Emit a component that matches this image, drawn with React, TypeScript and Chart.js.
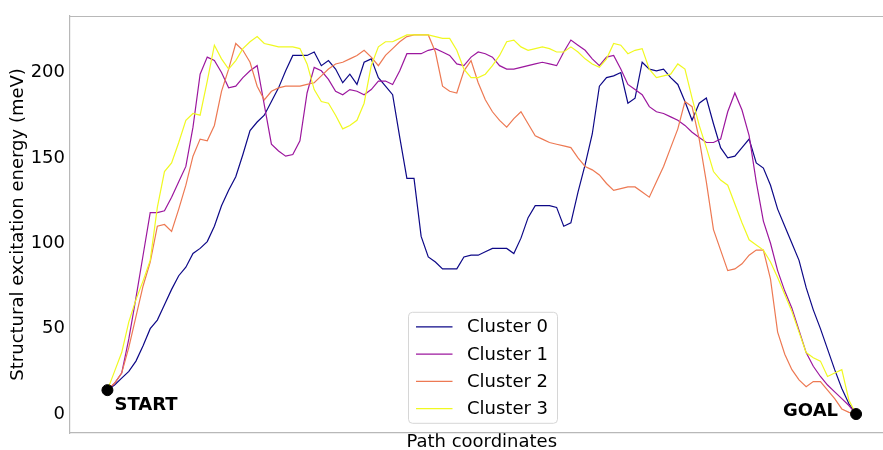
import { useEffect, useRef } from "react";
import { Chart, registerables } from "chart.js";

Chart.register(...registerables);

// Energy profiles along the path, one value per path coordinate (0..105)
const cluster0 = [
  14, 17, 21, 25, 31, 40, 50, 55, 64, 73, 81, 86, 94, 97, 101, 110, 122, 131, 139, 152,
  166, 171, 175, 183, 191, 201, 210, 210, 210, 212, 204, 207, 202, 194, 199, 193, 206, 208, 197, 192,
  187, 162, 138, 138, 104, 92, 89, 85, 85, 85, 92, 93, 93, 95, 97, 97, 97, 94, 103, 115,
  122, 122, 122, 121, 110, 112, 130, 146, 164, 192, 197, 198, 200, 182, 185, 206, 202, 201, 202, 197,
  193, 183, 172, 182, 185, 170, 156, 150, 151, 156, 161, 147, 144, 134, 120, 110, 100, 90, 74, 61,
  50, 38, 26, 15, 6, 0,
];
const cluster1 = [
  14, 18, 24, 44, 68, 93, 118, 118, 119, 127, 136, 145, 168, 199, 209, 207, 200, 191, 192, 197,
  201, 204, 181, 158, 154, 151, 152, 160, 188, 203, 201, 196, 189, 187, 190, 189, 187, 190, 195, 195,
  193, 201, 211, 211, 211, 213, 214, 212, 210, 205, 204, 209, 212, 211, 209, 204, 202, 202, 203, 204,
  205, 206, 205, 204, 212, 219, 216, 213, 208, 204, 209, 210, 202, 193, 190, 187, 180, 177, 176, 174,
  172, 169, 165, 162, 159, 159, 161, 177, 188, 178, 163, 136, 113, 100, 84, 72, 62, 49, 36, 28,
  22, 17, 13, 9, 5, 0,
];
const cluster2 = [
  14, 18, 24, 39, 57, 75, 89, 110, 111, 107, 120, 134, 151, 161, 160, 169, 189, 202, 217, 213,
  206, 192, 184, 189, 191, 192, 192, 192, 193, 194, 198, 202, 205, 206, 208, 210, 213, 209, 204, 210,
  214, 218, 221, 222, 222, 222, 212, 192, 189, 188, 201, 207, 194, 184, 177, 172, 168, 173, 177, 170,
  163, 161, 159, 158, 157, 156, 150, 145, 143, 140, 135, 131, 132, 133, 133, 130, 127, 136, 145, 156,
  167, 183, 180, 161, 136, 108, 96, 84, 85, 88, 93, 96, 96, 79, 48, 35, 26, 20, 16, 19,
  19, 14, 9, 3, 1, 0,
];
const cluster3 = [
  14, 25, 36, 54, 67, 78, 90, 121, 142, 147, 159, 172, 176, 175, 195, 216, 208, 202, 207, 214,
  218, 221, 217, 216, 215, 215, 215, 214, 205, 190, 183, 182, 175, 167, 169, 172, 182, 204, 215, 218,
  218, 220, 222, 222, 222, 222, 221, 220, 220, 213, 202, 197, 197, 199, 204, 210, 218, 219, 215, 213,
  214, 215, 214, 212, 212, 215, 212, 208, 205, 203, 208, 217, 216, 211, 213, 214, 202, 197, 198, 199,
  205, 202, 185, 169, 156, 142, 137, 134, 123, 112, 102, 99, 96, 89, 80, 70, 60, 48, 36, 33,
  31, 22, 24, 26, 8, 0,
];

const clusterNames = ["Cluster 0", "Cluster 1", "Cluster 2", "Cluster 3"];
const clusterValues = [cluster0, cluster1, cluster2, cluster3];
const clusterColors = ["#0d0887", "#9c179e", "#ed7953", "#f0f921"];

const yTickValues = [0, 50, 100, 150, 200];

const endpointLabels = ["START", "GOAL"];
const endpointX = [0, 105];
const endpointY = [14, 0];

const FONT = "'DejaVu Sans', 'Liberation Sans', sans-serif";
const SPINE = "#b8b8b8";

const decorations = {
  id: "decorations",
  afterDatasetsDraw(chart: any) {
    const { ctx, chartArea: a, scales } = chart;
    const xs = scales.x;
    const ys = scales.y;
    ctx.save();

    // top and right frame lines
    ctx.strokeStyle = SPINE;
    ctx.lineWidth = 1.2;
    ctx.beginPath();
    ctx.moveTo(a.left, Math.round(a.top) + 0.5);
    ctx.lineTo(a.right, Math.round(a.top) + 0.5);
    ctx.lineTo(a.right, a.bottom);
    ctx.stroke();

    // START / GOAL captions next to their markers
    ctx.fillStyle = "#000";
    ctx.font = `bold 18px ${FONT}`;
    ctx.textBaseline = "middle";
    const sx = xs.getPixelForValue(endpointX[0]);
    const sy = ys.getPixelForValue(endpointY[0]);
    ctx.textAlign = "left";
    ctx.fillText(endpointLabels[0], sx + 7, sy + 15);
    const gx = xs.getPixelForValue(endpointX[1]);
    const gy = ys.getPixelForValue(endpointY[1]);
    ctx.textAlign = "right";
    ctx.fillText(endpointLabels[1], gx - 18, gy - 3);

    // legend box
    const bx = a.left + 338.5;
    const by = a.top + 296.5;
    const bw = 149;
    const bh = 111;
    ctx.beginPath();
    ctx.roundRect(bx, by, bw, bh, 4);
    ctx.fillStyle = "rgba(255,255,255,0.8)";
    ctx.fill();
    ctx.strokeStyle = "#d6d6d6";
    ctx.lineWidth = 1;
    ctx.stroke();

    ctx.font = `18px ${FONT}`;
    ctx.textAlign = "left";
    ctx.textBaseline = "middle";
    clusterNames.forEach((name, k) => {
      const ly = by + 14.5 + k * 27.3;
      ctx.strokeStyle = clusterColors[k];
      ctx.lineWidth = 1.2;
      ctx.beginPath();
      ctx.moveTo(bx + 7.5, ly);
      ctx.lineTo(bx + 44, ly);
      ctx.stroke();
      ctx.fillStyle = "#000";
      ctx.fillText(name, bx + 58.5, ly + 1);
    });

    ctx.restore();
  },
};

export default function App() {
  const canvasRef = useRef<HTMLCanvasElement | null>(null);

  useEffect(() => {
    document.body.style.margin = "0";
    const canvas = canvasRef.current;
    if (!canvas) return;

    const lineSets = clusterValues.map((values, k) => ({
      type: "line" as const,
      label: clusterNames[k],
      data: values.map((v, i) => ({ x: i, y: v })),
      borderColor: clusterColors[k],
      backgroundColor: clusterColors[k],
      borderWidth: 1.2,
      pointRadius: 0,
      tension: 0,
      fill: false,
      order: 3 - k + 1,
    }));

    const markers = {
      type: "scatter" as const,
      label: "endpoints",
      data: endpointX.map((x, i) => ({ x, y: endpointY[i] })),
      backgroundColor: "#000",
      borderColor: "#000",
      pointRadius: 5.5,
      order: 0,
    };

    const chart = new Chart(canvas, {
      type: "line",
      data: { datasets: [...lineSets, markers] as any },
      options: {
        responsive: false,
        animation: false,
        events: [],
        layout: { padding: { top: 14, right: 6, left: 0, bottom: 0 } },
        plugins: {
          legend: { display: false },
          tooltip: { enabled: false },
          title: { display: false },
        },
        scales: {
          x: {
            type: "linear",
            min: -5.25,
            max: 110.25,
            grid: { display: false, drawTicks: false },
            border: { display: true, color: SPINE, width: 1.2 },
            ticks: { display: false },
            title: {
              display: true,
              text: "Path coordinates",
              color: "#000",
              font: { family: FONT, size: 18, lineHeight: 0.85 },
              padding: { top: 0, bottom: 0 },
            },
            afterFit: (s: any) => {
              s.height = 17;
            },
          },
          y: {
            type: "linear",
            min: -11.1,
            max: 233.2,
            grid: { display: false, drawTicks: false },
            border: { display: true, color: SPINE, width: 1.2 },
            afterBuildTicks: (s: any) => {
              s.ticks = yTickValues.map((v) => ({ value: v }));
            },
            ticks: {
              color: "#000",
              padding: 5,
              font: { family: FONT, size: 18 },
              callback: (v: any) => String(v),
            },
            title: {
              display: true,
              text: "Structural excitation energy (meV)",
              color: "#000",
              font: { family: FONT, size: 18 },
              padding: { top: 8, bottom: 0 },
            },
            afterFit: (s: any) => {
              s.width = 70;
            },
          },
        },
      },
      plugins: [decorations],
    });

    return () => chart.destroy();
  }, []);

  return (
    <div
      style={{
        position: "absolute",
        left: 0,
        top: 0,
        width: 883,
        height: 450,
        overflow: "hidden",
        background: "#fff",
      }}
    >
      <canvas ref={canvasRef} width={900} height={450} style={{ display: "block" }} />
    </div>
  );
}
